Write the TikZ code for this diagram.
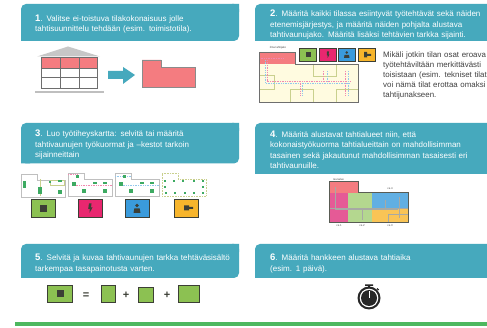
\documentclass[tikz,border=0pt]{standalone}
\usepackage{fontspec}
\setmainfont{Liberation Sans}
\definecolor{panelc}{HTML}{46A9BD}
\definecolor{redc}{HTML}{F47C80}
\definecolor{greyc}{HTML}{6E6E6E}
\definecolor{greenc}{HTML}{8CC152}
\definecolor{pinkc}{HTML}{E8276F}
\definecolor{bluec}{HTML}{3A9BDC}
\definecolor{amberc}{HTML}{F7B52C}
\definecolor{darkc}{HTML}{3C3F36}
\definecolor{palec}{HTML}{FFFBE0}
\definecolor{dotc}{HTML}{3DAA62}
\definecolor{roomc}{HTML}{C9D08E}
\definecolor{barc}{HTML}{4DB85F}
\tikzset{
  paneltext/.style={text=white,font=\fontsize{8}{10.5}\selectfont,align=left,anchor=north west,inner sep=0pt,text width=#1},
  sidetext/.style={text=black!75,font=\fontsize{7.9}{10}\selectfont,align=left,anchor=north west,inner sep=0pt,text width=125pt},
  tiny/.style={text=black!70,font=\fontsize{2.8}{3}\selectfont,inner sep=0pt},
  plan/.style={draw=greyc,line width=1pt},
  legend/.style={draw=darkc,line width=0.7pt},
  room/.style={draw=roomc,line width=0.5pt},
  pipered/.style={draw=pinkc!55,line width=0.7pt,densely dotted},
  pipeblue/.style={draw=bluec!55,line width=0.7pt,densely dotted},
  dot/.style={fill=dotc,draw=none},
  card/.style={draw=black!25,line width=0.6pt,fill=white},
  sym/.style={text=darkc,font=\bfseries\fontsize{11}{11}\selectfont,inner sep=0pt},
}
\newcommand{\cardshape}[3]{%
  \path[card,#3] (#1,#2) -- (#1+16,#2) -- (#1+16,#2+6) -- (#1+44,#2+6) -- (#1+44,#2+23) -- (#1,#2+23) -- cycle;}
\begin{document}
\begin{tikzpicture}[x=1pt,y=-1pt]
\useasboundingbox (0,0) rectangle (487,328);
\fill[white] (0,0) rectangle (487,328);

% panels
\fill[panelc,rounded corners=5pt] (21,4) -- (239,4) -- (239,41) -- (21,41) -- cycle;
\fill[panelc] (232,4) rectangle (239,12) (21,34) rectangle (30,41);
\fill[panelc,rounded corners=5pt] (255,4) -- (495,4) -- (495,41) -- (255,41) -- cycle;
\fill[panelc] (255,34) rectangle (264,41);
\fill[panelc,rounded corners=5pt] (21,123) -- (239,123) -- (239,163.5) -- (21,163.5) -- cycle;
\fill[panelc] (232,123) rectangle (239,131) (21,156) rectangle (30,163.5);
\fill[panelc,rounded corners=5pt] (255,123) -- (495,123) -- (495,174) -- (255,174) -- cycle;
\fill[panelc] (255,166) rectangle (264,174);
\fill[panelc,rounded corners=5pt] (21,244) -- (239,244) -- (239,278) -- (21,278) -- cycle;
\fill[panelc] (232,244) rectangle (239,252) (21,270) rectangle (30,278);
\fill[panelc,rounded corners=5pt] (255,244) -- (495,244) -- (495,278) -- (255,278) -- cycle;
\fill[panelc] (255,270) rectangle (264,278);

\node[paneltext=200pt] (t1) at (35,14.5) {{\bfseries\fontsize{9.5}{10}\selectfont 1}. Valitse ei-toistuva tilakokonaisuus jolle\\tahtisuunnittelu tehdään (esim. toimistotila).};
\node[paneltext=232pt] (t2) at (270,10) {{\bfseries\fontsize{9.5}{10}\selectfont 2}. Määritä kaikki tilassa esiintyvät työtehtävät sekä näiden\\etenemisjärjestys, ja määritä näiden pohjalta alustava\\tahtivaunujako. Määritä lisäksi tehtävien tarkka sijainti.};
\node[paneltext=200pt] (t3) at (35,130) {{\bfseries\fontsize{9.5}{10}\selectfont 3}. Luo työtiheyskartta: selvitä tai määritä\\tahtivaunujen työkuormat ja –kestot tarkoin\\sijainneittain};
\node[paneltext=215pt] (t4) at (270,130.5) {{\bfseries\fontsize{9.5}{10}\selectfont 4}. Määritä alustavat tahtialueet niin, että\\kokonaistyökuorma tahtialueittain on mahdollisimman\\tasainen sekä jakautunut mahdollisimman tasaisesti eri\\tahtivaunuille.};
\node[paneltext=210pt] (t5) at (35,254) {{\bfseries\fontsize{9.5}{10}\selectfont 5}. Selvitä ja kuvaa tahtivaunujen tarkka tehtäväsisältö\\tarkempaa tasapainotusta varten.};
\node[paneltext=200pt] (t6) at (270,254) {{\bfseries\fontsize{9.5}{10}\selectfont 6}. Määritä hankkeen alustava tahtiaika\\(esim. 1 päivä).};

% step 1 : building
\fill[black!22] (37,56.5) -- (68,46.5) -- (100,56.5) -- cycle;
\fill[redc] (41,58) rectangle (97,68.5);
\draw[plan] (41,58) rectangle (97,89);
\draw[plan] (41,68.5) -- (97,68.5) (41,78) -- (97,78) (60,58) -- (60,89) (79,58) -- (79,89);
\fill[black!25] (35,91) rectangle (104,93);
\fill[panelc] (108,71) -- (123,71) -- (123,67) -- (135,75) -- (123,84) -- (123,79) -- (108,79) -- cycle;
\path[fill=redc,draw=greyc!80,line width=0.6pt] (142,60) -- (161,60) -- (161,67.5) -- (195,67.5) -- (195,87.5) -- (142,87.5) -- cycle;

% step 2 : plan
\path[fill=palec] (259,52) -- (295,52) -- (295,64) -- (358,64) -- (358,102) -- (259,102) -- cycle;
\fill[redc] (259,52) rectangle (295,64);
\draw[room] (313,64) -- (313,76) -- (336,76) -- (336,64);
\draw[room] (259,75) -- (274,75) -- (274,89) -- (259,89);
\draw[room] (290,102) -- (290,89) -- (313,89) -- (313,102);
\draw[room] (336,102) -- (336,89) -- (358,89);
\draw[pipeblue] (265,60) -- (265,83) -- (350,83);
\draw[pipered] (267,60) -- (267,81) -- (350,81);
\draw[pipered] (259,58) -- (283,58);
\draw[pipered] (323,71) -- (323,81) (345,71) -- (345,95) (300,81) -- (300,95);
\draw[pipeblue] (327,71) -- (327,83) (348,71) -- (348,95) (302,83) -- (302,95);
\draw[plan,line width=0.8pt] (259,52) -- (295,52) -- (295,64) -- (358,64) -- (358,102) -- (259,102) -- cycle;
\node[tiny] (l2) at (278,48) {ilma tahtijako};
\foreach \xa/\col/\nm in {299/greenc/a,319/pinkc/b,338/bluec/c,358/amberc/d}
  \path[legend,fill=\col] (\xa,48) rectangle ++(17.5,13);
\fill[darkc] (305.5,52) rectangle (310.5,57);
\fill[darkc] (327,51.5) -- (329,51.5) -- (328.6,54.5) -- (329.4,54.5) -- (327.7,58) -- (327.7,55.5) -- (326.8,55.5) -- cycle;
\fill[darkc] (346.7,52.5) circle (1.3pt) (344,58) -- (344.5,55) -- (349,55) -- (349.5,58) -- cycle;
\fill[darkc] (364,52) rectangle (367,57.5) (367,54) rectangle (371,55.8);
\node[sidetext] (side) at (383,52) {Mikäli jotkin tilan osat eroava\\työtehtäviltään merkittävästi\\toisistaan (esim. tekniset tilat\\voi nämä tilat erottaa omaksi\\tahtijunakseen.};

% step 3 : cards
\cardshape{21}{174}{}
\cardshape{68}{173}{}
\cardshape{115}{173}{}
\cardshape{162}{173}{draw=roomc,densely dotted,line width=0.9pt}
\draw[room] (40,179.5) -- (40,196) (50,180) rectangle (64,185);
\foreach \xa/\ya/\wa/\ha in {24.3/185/1.7/3.5,40/191/1.7/3.5,60/192/1.6/2.4,60/181/1.6/1.2,50/182/1.4/0.7}
  \fill[dot] (\xa-\wa,\ya-\ha) rectangle (\xa+\wa,\ya+\ha);
\draw[pipered] (68,174.5) -- (77,174.5) (74,185) -- (112,185);
\draw[pipeblue] (115,176) -- (131,176) (121,185) -- (160,185);
\foreach \dx/\col in {0/dot,47/dot} {
  \foreach \xa/\ya/\wa/\ha in {77/177/1.5/1.5,74/184/1.6/1.6,84/191/1.6/1.6,105/191/1.6/1.6,105/183/1.6/1,95/183/1.6/0.7}
    \fill[dot] (\xa+\dx-\wa,\ya-\ha) rectangle (\xa+\dx+\wa,\ya+\ha);
}
\foreach \xa/\ya in {165/181,174/181,183/181,194/181,203/181,166/193,175/193,185/193,194/193,203/193,165/187,203/187}
  \fill[dot] (\xa-1.3,\ya-0.7) rectangle (\xa+1.3,\ya+0.7);
\foreach \xa/\col in {31/greenc,78/pinkc,125/bluec,174/amberc}
  \path[legend,fill=\col] (\xa,199.5) rectangle ++(24,17.5);
\fill[darkc] (39.5,205) rectangle (46.5,212);
\fill[darkc] (89,203.5) -- (91.5,203.5) -- (91,207.5) -- (92.5,207.5) -- (89.5,213) -- (89.8,209) -- (88.2,209) -- cycle;
\fill[darkc] (137,205.5) circle (1.8pt) (133.5,213) -- (134.3,208.5) -- (139.7,208.5) -- (140.5,213) -- cycle;
\fill[darkc] (184,205.5) rectangle (189,210.5) (189,207) rectangle (193,209);

% step 4 : zones
\fill[redc] (329,182) rectangle (358,193);
\fill[magenta!60!purple!70] (329,193) rectangle (347.5,223);
\fill[greenc!65] (347.5,193) rectangle (372,223);
\fill[bluec!80] (372,193) rectangle (408,208);
\fill[amberc!80] (372,208) rectangle (408,223);
\draw[darkc!45,line width=0.5pt] (335,187) -- (335,209) -- (398,209) (329,208) -- (408,208)
  (362,209) -- (362,220) (385,200) -- (385,209) (399,197) -- (399,218) (388,223) -- (388,214) -- (408,214);
\draw[plan,draw=darkc!85] (329,182) -- (358,182) -- (358,193) -- (408,193) -- (408,223) -- (329,223) -- cycle;
\node[tiny] (l4) at (338.5,179.5) {reunalue};
\node[tiny] (c4) at (390,189) {ca 4};
\node[tiny] (c1) at (339,226) {ca 1};
\node[tiny] (c2) at (362,226) {ca 2};
\node[tiny] (c3) at (390,226) {ca 3};

% step 5 : equation
\path[legend,fill=greenc,line width=0.8pt] (47.5,285) rectangle (72,302);
\fill[darkc] (56.5,290) rectangle (63.5,297);
\node[sym] (eq) at (86,295.5) {=};
\path[legend,fill=greenc,line width=0.8pt] (101,285) rectangle (115,302);
\node[sym] (p1) at (126,295) {+};
\path[legend,fill=greenc,line width=0.8pt] (138,287) rectangle (153,302);
\node[sym] (p2) at (167,295) {+};
\path[legend,fill=greenc,line width=0.8pt] (178,285) rectangle (199,302);

% step 6 : stopwatch
\fill[black!85] (369,298) circle (11.5pt);
\fill[white] (369,298) circle (9.3pt);
\fill[black!85] (369,298) circle (8pt);
\draw[white,line width=0.5pt] (369,298) -- (369,291);
\fill[black!85] (365,284.5) rectangle (373,286) (368,286) rectangle (370,288);
\draw[black!85,line width=1.2pt] (377,288.5) -- (378.7,290);

% bottom bar
\fill[barc] (15,322) rectangle (487,326);
\end{tikzpicture}
\end{document}
